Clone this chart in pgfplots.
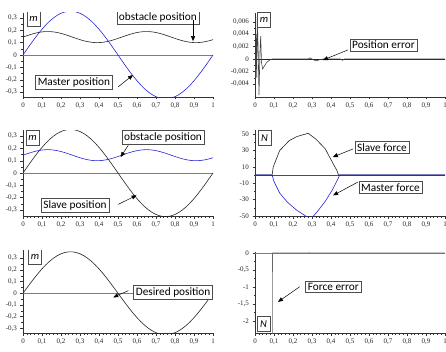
\documentclass[border=0pt]{standalone}
\usepackage{fontspec}
\setmainfont{Carlito}
\newfontfamily\tickfont{Liberation Serif}
\usepackage{pgfplots}
\pgfplotsset{compat=1.18}
\usepackage{pgfplotstable}
\usetikzlibrary{arrows.meta}

\definecolor{bl}{RGB}{35,35,215}
\definecolor{dk}{RGB}{35,35,35}
\definecolor{zl}{RGB}{125,125,125}

\pgfplotstableread{
x s o
0 0 0.145
0.02 0.0445 0.1558
0.04 0.0883 0.1659
0.06 0.1307 0.1748
0.08 0.1710 0.1820
0.10 0.2087 0.1871
0.12 0.2430 0.1897
0.14 0.2735 0.1897
0.16 0.2997 0.1871
0.18 0.3212 0.1820
0.20 0.3376 0.1748
0.22 0.3487 0.1659
0.24 0.3543 0.1558
0.26 0.3543 0.1450
0.28 0.3487 0.1342
0.30 0.3376 0.1241
0.32 0.3212 0.1152
0.34 0.2997 0.1080
0.36 0.2735 0.1029
0.38 0.2430 0.1003
0.40 0.2087 0.1003
0.42 0.1710 0.1029
0.44 0.1307 0.1080
0.46 0.0883 0.1152
0.48 0.0445 0.1241
0.50 0 0.1342
0.52 -0.0445 0.1450
0.54 -0.0883 0.1558
0.56 -0.1307 0.1659
0.58 -0.1710 0.1748
0.60 -0.2087 0.1820
0.62 -0.2430 0.1871
0.64 -0.2735 0.1897
0.66 -0.2997 0.1897
0.68 -0.3212 0.1871
0.70 -0.3376 0.1820
0.72 -0.3487 0.1748
0.74 -0.3543 0.1659
0.76 -0.3543 0.1558
0.78 -0.3487 0.1450
0.80 -0.3376 0.1342
0.82 -0.3212 0.1241
0.84 -0.2997 0.1152
0.86 -0.2735 0.1080
0.88 -0.2430 0.1029
0.90 -0.2087 0.1003
0.92 -0.1710 0.1003
0.94 -0.1307 0.1029
0.96 -0.0883 0.1080
0.98 -0.0445 0.1152
1.00 0 0.1241
}\postable

\pgfplotstableread{
x e
0 0
0.003 -0.0032
0.006 0.0040
0.009 -0.0030
0.012 0.0068
0.017 0.0010
0.021 -0.0058
0.026 0.0010
0.030 0.0037
0.034 -0.0005
0.040 -0.0016
0.050 -0.0011
0.060 -0.0006
0.075 -0.0002
0.090 0
0.280 0
0.290 0.0002
0.300 0
0.320 -0.0003
0.340 -0.0001
0.360 0
0.450 0
0.460 -0.0002
0.470 0
1 0
}\poserr

\pgfplotstableread{
x f
0 0
0.09 0
0.096 10
0.13 30
0.18 42
0.22 47
0.28 51
0.32 44
0.37 32
0.39 23
0.43 6
0.44 0
1 0
}\slaveforce

\pgfplotstableread{
x f
0 0
0.09 0
0.10 -8
0.13 -22
0.17 -33
0.22 -43
0.26 -49
0.28 -52
0.30 -52
0.33 -44
0.37 -32
0.41 -17
0.44 -3
0.445 0
1 0
}\masterforce

\pgfplotstableread{
x f
0 -3
0.091 -3
0.092 0
0.28 0
0.285 0.01
0.29 0
1 0
}\forceerr

\pgfplotsset{
 panel/.style={
  scale only axis, width=190pt,
  xmin=0, xmax=1,
  axis x line*=bottom, axis y line*=left,
  axis line style={-, black!80, line width=0.5pt},
  xtick={0,0.1,0.2,0.3,0.4,0.5,0.6,0.7,0.8,0.9,1},
  minor x tick num=4, minor y tick num=1,
  tick align=outside, major tick length=2.5pt, minor tick length=1.5pt,
  tick style={black!80, line width=0.4pt},
  ticklabel style={font=\tickfont\fontsize{7}{8}\selectfont, text=black!85},
  /pgf/number format/assume math mode=true,
  /pgf/number format/use comma,
  scaled y ticks=false,
  anchor=south west,
 },
}
\tikzset{
 lbl/.style={draw=black!70, line width=0.5pt, fill=white, inner sep=2.2pt, font=\fontsize{11.3}{13}\selectfont},
 unit/.style={draw=black!70, line width=0.5pt, fill=white, inner sep=2pt, minimum width=13pt, minimum height=15pt, font=\fontsize{10.5}{12}\selectfont\itshape},
 arr/.style={-{Triangle[length=5pt,width=4pt]}, line width=0.5pt, black},
}

\begin{document}
\begin{tikzpicture}
\useasboundingbox (0,0) rectangle (446pt,351pt);

% Panel 1
\begin{axis}[panel, at={(23pt,254pt)}, height=84pt, ymin=-0.34, ymax=0.34,
  ytick={-0.3,-0.2,-0.1,0,0.1,0.2,0.3}]
\addplot[zl, line width=0.5pt] coordinates {(0,0) (1,0)};
\addplot[dk, line width=0.6pt] table[x=x,y=o] {\postable};
\addplot[bl, line width=0.6pt] table[x=x,y=s] {\postable};
\node[unit] at (rel axis cs:0.055,0.93) {m};
\node[lbl] at (rel axis cs:0.71,0.945) {obstacle position};
\draw[arr] (axis cs:0.895,0.285) -- (axis cs:0.895,0.112);
\node[lbl] at (rel axis cs:0.268,0.173) {Master position};
\draw[arr] (rel axis cs:0.5,0.119) -- (rel axis cs:0.579,0.262);
\end{axis}

% Panel 2
\begin{axis}[panel, at={(255pt,254pt)}, height=84pt, ymin=-0.0061, ymax=0.0074,
  ytick={-0.004,-0.002,0,0.002,0.004,0.006},
  yticklabel style={/pgf/number format/.cd, fixed, precision=3, use comma}]
\addplot[dk, line width=0.5pt] coordinates {(0,0) (1,0)};
\addplot[black!75, line width=0.6pt] table[x=x,y=e] {\poserr};
\node[unit] at (rel axis cs:0.047,0.92) {m};
\node[lbl] at (rel axis cs:0.676,0.62) {Position error};
\draw[arr] (rel axis cs:0.489,0.56) -- (rel axis cs:0.358,0.44);
\end{axis}

% Panel 3
\begin{axis}[panel, at={(23pt,135pt)}, height=86pt, ymin=-0.35, ymax=0.35,
  ytick={-0.3,-0.2,-0.1,0,0.1,0.2,0.3}]
\addplot[zl, line width=0.5pt] coordinates {(0,0) (1,0)};
\addplot[bl, line width=0.6pt] table[x=x,y=o] {\postable};
\addplot[dk, line width=0.6pt] table[x=x,y=s] {\postable};
\node[unit] at (rel axis cs:0.05,0.91) {m};
\node[lbl] at (rel axis cs:0.737,0.918) {obstacle position};
\draw[arr] (rel axis cs:0.554,0.822) -- (rel axis cs:0.514,0.686);
\node[lbl] at (rel axis cs:0.274,0.122) {Slave position};
\draw[arr] (rel axis cs:0.502,0.136) -- (rel axis cs:0.598,0.241);
\end{axis}

% Panel 4
\begin{axis}[panel, at={(255pt,135pt)}, height=86pt, ymin=-50, ymax=55,
  ytick={-50,-30,-10,10,30,50}]
\addplot[black!70, line width=0.5pt] coordinates {(0,0) (1,0)};
\addplot[dk, line width=0.6pt] table[x=x,y=f] {\slaveforce};
\addplot[bl, line width=0.6pt] table[x=x,y=f] {\masterforce};
\node[unit] at (rel axis cs:0.05,0.91) {N};
\node[lbl] at (rel axis cs:0.668,0.80) {Slave force};
\draw[arr] (rel axis cs:0.516,0.78) -- (rel axis cs:0.41,0.686);
\node[lbl] at (rel axis cs:0.713,0.331) {Master force};
\draw[arr] (rel axis cs:0.542,0.395) -- (rel axis cs:0.411,0.24);
\end{axis}

% Panel 5
\begin{axis}[panel, at={(23pt,18pt)}, height=83pt, ymin=-0.34, ymax=0.37,
  ytick={-0.3,-0.2,-0.1,0,0.1,0.2,0.3}]
\addplot[zl, line width=0.5pt] coordinates {(0,0) (1,0)};
\addplot[dk, line width=0.6pt] table[x=x,y=s] {\postable};
\node[unit] at (rel axis cs:0.063,0.92) {m};
\node[lbl] at (rel axis cs:0.79,0.494) {Desired position};
\draw[arr] (rel axis cs:0.554,0.51) -- (rel axis cs:0.475,0.43);
\end{axis}

% Panel 6
\begin{axis}[panel, at={(255pt,18pt)}, height=81pt, ymin=-2.35, ymax=0.03,
  ytick={-2,-1.5,-1,-0.5,0}]
\addplot[zl, line width=0.5pt] coordinates {(0,0) (1,0)};
\addplot[black!60, line width=0.6pt] table[x=x,y=f] {\forceerr};
\node[unit] at (rel axis cs:0.045,0.11) {N};
\node[lbl] at (rel axis cs:0.412,0.571) {Force error};
\draw[arr] (rel axis cs:0.235,0.571) -- (rel axis cs:0.121,0.384);
\end{axis}
\end{tikzpicture}
\end{document}
